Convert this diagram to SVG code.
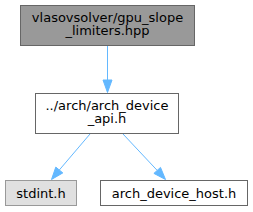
<svg xmlns="http://www.w3.org/2000/svg" width="253" height="212" viewBox="0 0 253 212">
<style>
text{font-family:"DejaVu Sans",sans-serif;font-size:13px;text-anchor:middle;fill:#000}
.e{stroke:#63b8ff;fill:none;stroke-width:1}
.h{fill:#63b8ff;stroke:#63b8ff}
</style>
<rect width="253" height="212" fill="#fff"/>
<g id="node1">
<rect x="20.5" y="5.5" width="174" height="40" fill="#999999" stroke="#666666"/>
<text x="107.5" y="21.5">vlasovsolver/gpu_slope</text>
<text x="107.5" y="35">_limiters.hpp</text>
</g>
<g id="node2">
<rect x="35.5" y="93.5" width="143" height="40" fill="#ffffff" stroke="#666666"/>
<text x="107" y="109.5">../arch/arch_device</text>
<text x="107" y="123">_api.h</text>
</g>
<g id="node3">
<rect x="5.5" y="180.5" width="71" height="25" fill="#e0e0e0" stroke="#999999"/>
<text x="41" y="198">stdint.h</text>
</g>
<g id="node4">
<rect x="100.5" y="180.5" width="147" height="25" fill="#ffffff" stroke="#666666"/>
<text x="174" y="198">arch_device_host.h</text>
</g>
<g id="edges">
<path class="e" d="M107.5,46 L107.5,80"/>
<polygon class="h" points="103,80 112,80 107.5,92.5"/>
<path class="e" d="M90,134 L59.3,170"/>
<polygon class="h" points="62.8,172.9 55.8,167.1 51.5,179.5"/>
<path class="e" d="M123,134 L157.2,170.4"/>
<polygon class="h" points="153.9,173.4 160.5,167.4 165.5,179.5"/>
</g>
</svg>
